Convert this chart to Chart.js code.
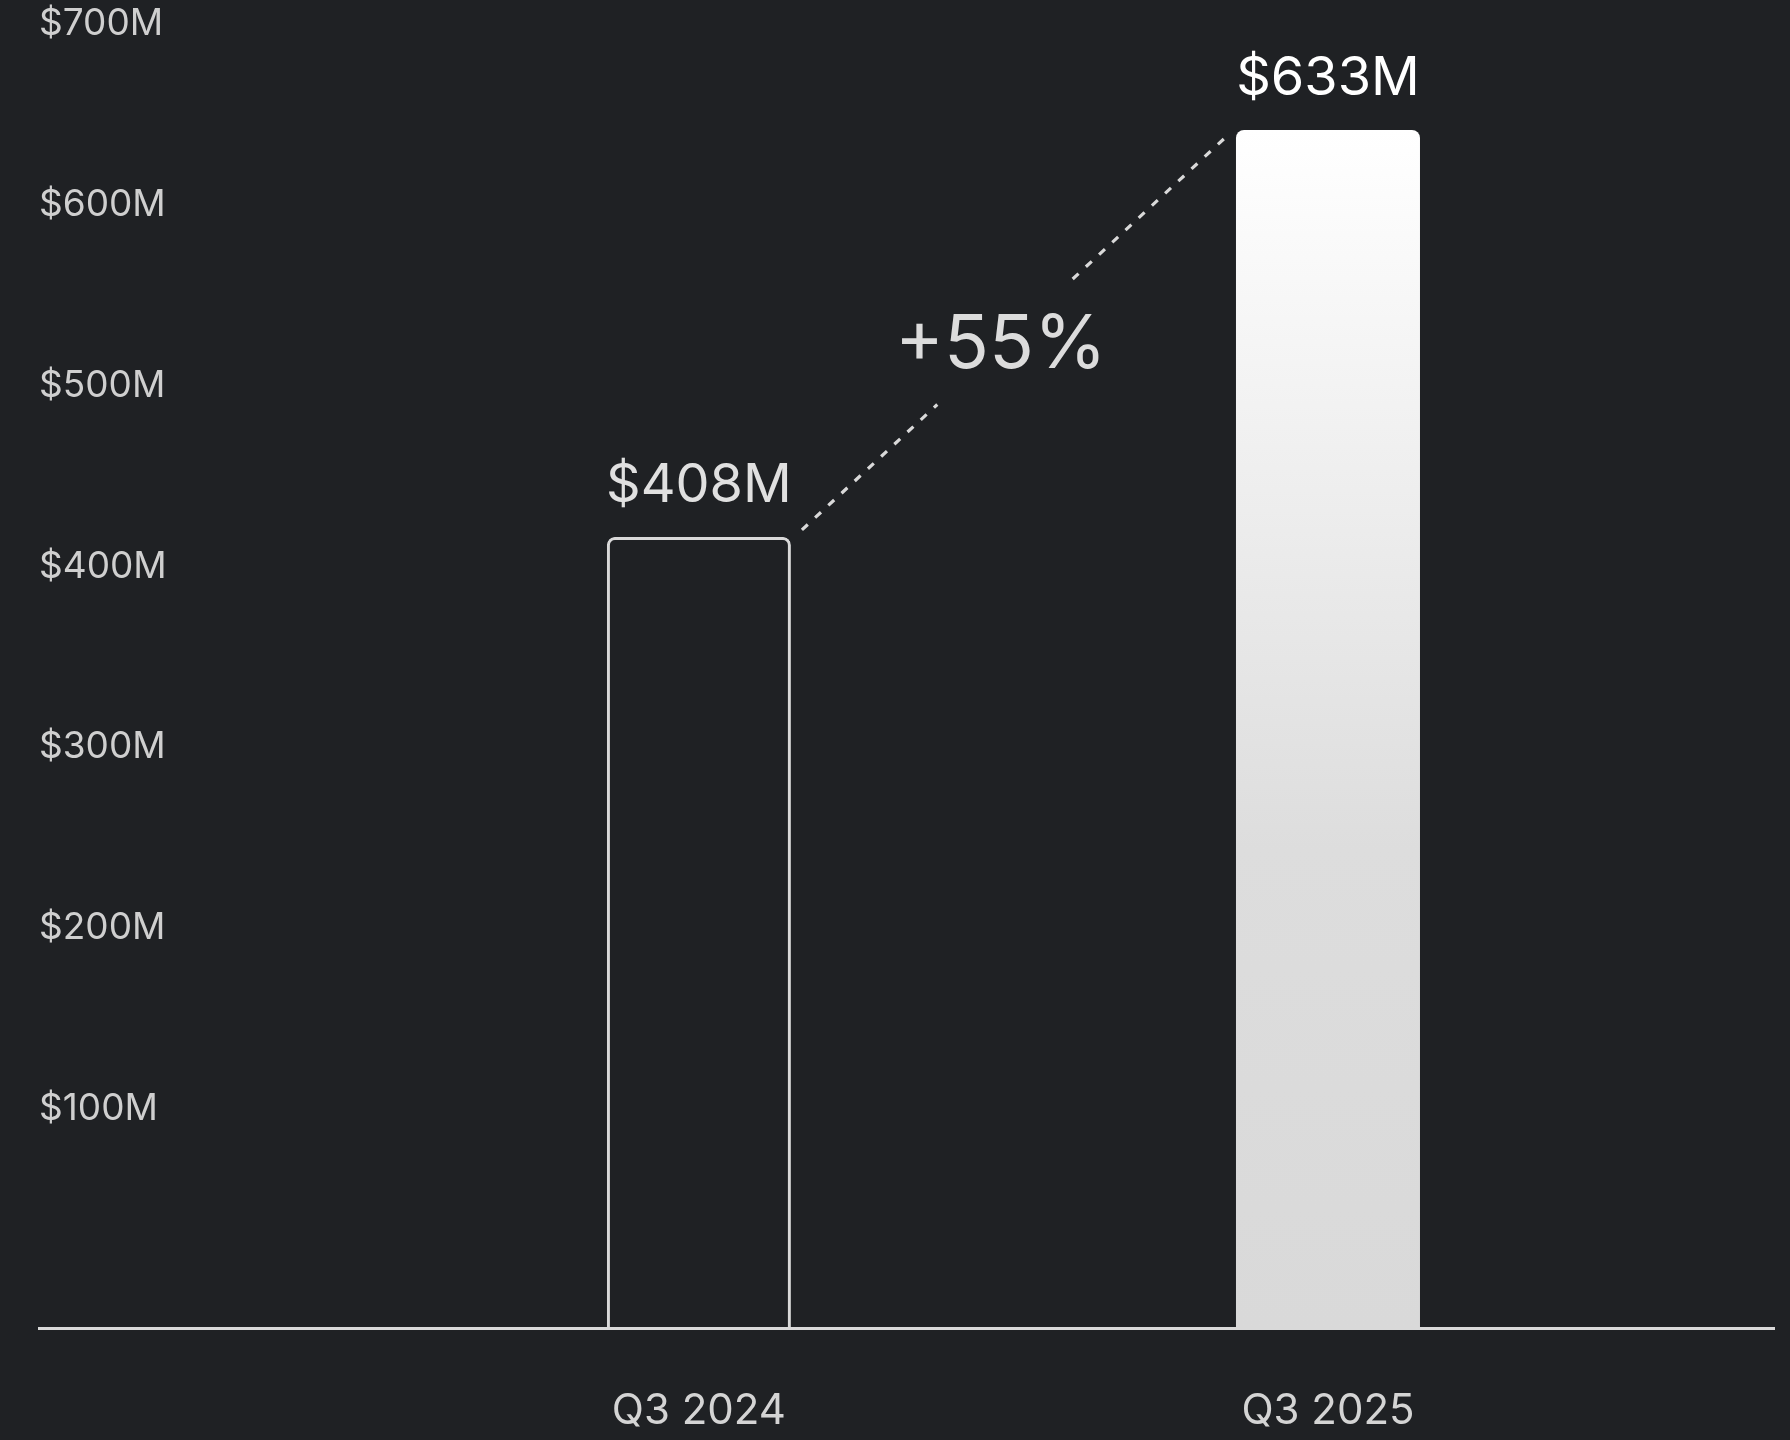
<!DOCTYPE html>
<html>
<head>
<meta charset="utf-8">
<title>Revenue Q3</title>
<script src="https://cdn.jsdelivr.net/npm/chart.js@4.4.1/dist/chart.umd.min.js"></script>
<style>
  html, body { margin: 0; padding: 0; background: #1f2124; }
  canvas { display: block; }
</style>
</head>
<body>
<canvas id="bar-canvas" width="1790" height="1440"></canvas>
<script>
// quarters and revenue ($M)
var quarters = ["Q3 2024", "Q3 2025"];
var revenue = [408, 633];
var yTicks = [100, 200, 300, 400, 500, 600, 700];

// axis bounds
var yMin = -29.3, yMax = 704.8;
var xMin = -1.049, xMax = 1.709;

var lightGray = "#d9d9d9";

function money(v) {
  return "$" + v + "M";
}

// value labels above the bars + dotted growth connector
var annotate = {
  id: "annotate",
  afterDatasetsDraw: function(chart) {
    var ctx = chart.ctx;
    var bars = chart.getDatasetMeta(0).data;
    ctx.save();

    // values over bars
    ctx.font = "54px Inter";
    ctx.textAlign = "center";
    ctx.textBaseline = "alphabetic";
    bars.forEach(function(bar, i) {
      ctx.fillStyle = i == 1 ? "#ffffff" : "#e0e0e0";
      ctx.fillText(money(revenue[i]), bar.x, bar.y - 35);
    });

    // connector from first bar to second
    var a = bars[0], b = bars[1];
    var x1 = a.x + a.width / 2 + 11, y1 = a.y - 7;
    var x2 = b.x - b.width / 2 - 11, y2 = b.y + 8;
    function pt(t) { return [x1 + (x2 - x1) * t, y1 + (y2 - y1) * t]; }

    ctx.strokeStyle = lightGray;
    ctx.lineWidth = 3.2;
    ctx.setLineDash([8, 10]);
    var p = pt(0.32), q = pt(0.64);
    ctx.beginPath();
    ctx.moveTo(x1, y1); ctx.lineTo(p[0], p[1]);
    ctx.moveTo(q[0], q[1]); ctx.lineTo(x2, y2);
    ctx.stroke();
    ctx.setLineDash([]);

    var growth = Math.round((revenue[1] / revenue[0] - 1) * 100);
    var m = pt(0.47);
    ctx.font = "74px Inter";
    ctx.fillStyle = "#dcdcdc";
    ctx.textBaseline = "middle";
    ctx.fillText("+" + growth + "%", m[0], m[1]);
    ctx.restore();
  }
};

var ctx = document.getElementById("bar-canvas");

var chartData = {
  datasets: [{
    data: revenue.map(function(v, i) { return { x: i, y: v }; }),
    base: yMin,
    categoryPercentage: 1,
    barPercentage: 0.2925,
    borderWidth: function(c) { return c.dataIndex == 0 ? 3 : 0; },
    borderColor: lightGray,
    borderSkipped: "start",
    borderRadius: { topLeft: 8, topRight: 8, bottomLeft: 0, bottomRight: 0 },
    backgroundColor: function(c) {
      if (c.dataIndex == 0) return "rgba(0,0,0,0)";
      var chart = c.chart;
      var area = chart.chartArea;
      if (!area) return "#ffffff";
      var top = chart.scales.y.getPixelForValue(revenue[1]);
      var g = chart.ctx.createLinearGradient(0, top, 0, area.bottom);
      g.addColorStop(0, "#ffffff");
      g.addColorStop(0.6, "#dddddd");
      g.addColorStop(1, "#d9d9d9");
      return g;
    }
  }]
};

var options = {
  responsive: false,
  animation: false,
  layout: { padding: { left: 39, right: 16, top: 0, bottom: 0 } },
  plugins: {
    legend: { display: false },
    tooltip: { enabled: false }
  },
  scales: {
    x: {
      type: "linear",
      offset: false,
      min: xMin,
      max: xMax,
      grid: { display: false },
      border: { display: true, color: lightGray, width: 3 },
      afterBuildTicks: function(scale) {
        scale.ticks = quarters.map(function(_, i) { return { value: i }; });
      },
      afterFit: function(scale) {
        scale.height = 112;
        scale.paddingLeft = 0;
        scale.paddingRight = 0;
      },
      ticks: {
        padding: 50,
        color: "#d4d4d4",
        font: { family: "Inter", size: 42 },
        maxRotation: 0,
        autoSkip: false,
        callback: function(v) { return quarters[v]; }
      }
    },
    y: {
      min: yMin,
      max: yMax,
      grid: { display: false },
      border: { display: false },
      afterBuildTicks: function(scale) {
        scale.ticks = yTicks.map(function(v) { return { value: v }; });
      },
      afterFit: function(scale) {
        scale.width = 0;
        scale.paddingTop = 0;
        scale.paddingBottom = 0;
      },
      ticks: {
        mirror: true,
        padding: 0,
        crossAlign: "near",
        labelOffset: 15,
        color: "#cfcfcf",
        font: { family: "Inter", size: 37 },
        callback: function(v) { return money(v); }
      }
    }
  }
};

var chart = new Chart(ctx, {
  type: "bar",
  data: chartData,
  options: options,
  plugins: [annotate]
});
</script>
</body>
</html>
